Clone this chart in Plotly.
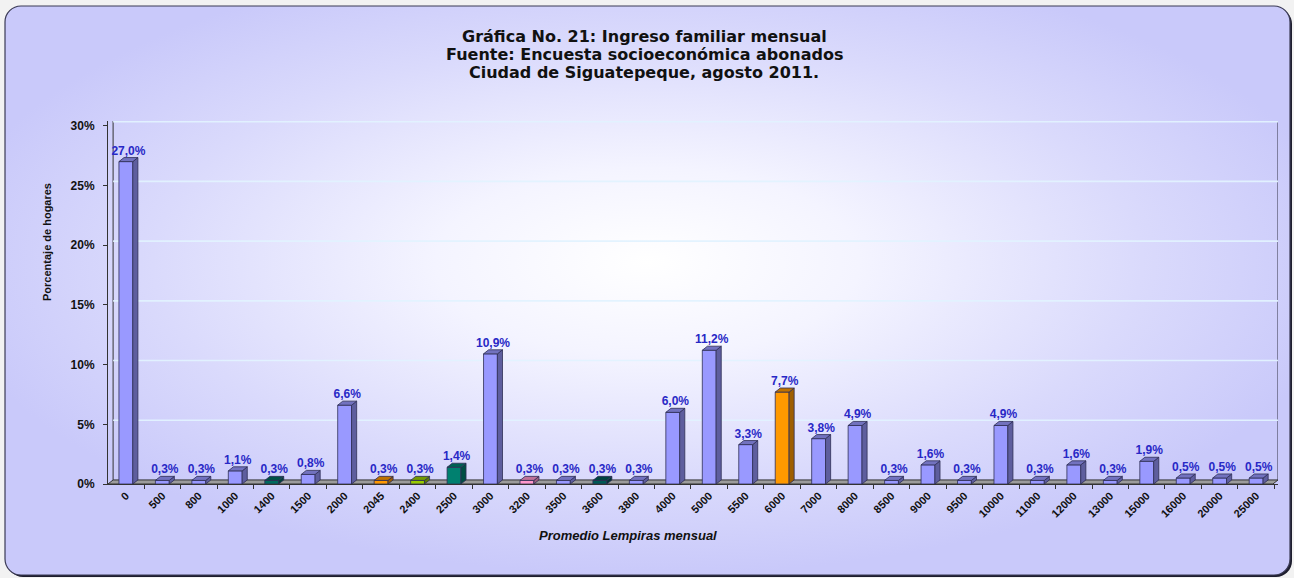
import base64
import plotly.graph_objects as go

# ---------------- data ----------------
categories = ["0", "500", "800", "1000", "1400", "1500", "2000", "2045", "2400", "2500",
              "3000", "3200", "3500", "3600", "3800", "4000", "5000", "5500", "6000", "7000",
              "8000", "8500", "9000", "9500", "10000", "11000", "12000", "13000", "15000",
              "16000", "20000", "25000"]
values = [27.0, 0.3, 0.3, 1.1, 0.3, 0.8, 6.6, 0.3, 0.3, 1.4,
          10.9, 0.3, 0.3, 0.3, 0.3, 6.0, 11.2, 3.3, 7.7, 3.8,
          4.9, 0.3, 1.6, 0.3, 4.9, 0.3, 1.6, 0.3, 1.9,
          0.5, 0.5, 0.5]
bar_colors = ["#9999FF", "#9999FF", "#9999FF", "#9999FF", "#006B5E", "#9999FF", "#9999FF", "#FF9900", "#99CC00", "#00806F",
              "#9999FF", "#FF99CC", "#9999FF", "#005A55", "#9999FF", "#9999FF", "#9999FF", "#9999FF", "#FF9900", "#9999FF",
              "#9999FF", "#9999FF", "#9999FF", "#9999FF", "#9999FF", "#9999FF", "#9999FF", "#9999FF", "#9999FF",
              "#9999FF", "#9999FF", "#9999FF"]
y_ticks = [0, 5, 10, 15, 20, 25, 30]
y_ticktext = ["0%", "5%", "10%", "15%", "20%", "25%", "30%"]
title_lines = ["Gráfica No. 21: Ingreso familiar mensual",
               "Fuente: Encuesta socioeconómica abonados",
               "Ciudad de Siguatepeque, agosto 2011."]
y_title = "Porcentaje de hogares"
x_title = "Promedio Lempiras mensual"

# ---------------- style ----------------
W, H = 1294, 578
ML, MR, MT, MB = 108, 16, 121, 94
n = len(categories)
XR = [-0.49, n - 1 + 0.60]
YR = [0, 30.4]
HW = 0.19      # half width of bar front
DX = 0.14      # depth x (data units)
DY = 0.34      # depth y (data units)
EDGE = "#2E2E55"
FONT = "Arial, Liberation Sans, sans-serif"
TFONT = "DejaVu Sans, Verdana, sans-serif"


def shade(hex_color, f):
    h = hex_color.lstrip("#")
    r, g, b = (int(h[i:i + 2], 16) for i in (0, 2, 4))
    return "#%02X%02X%02X" % (int(r * f), int(g * f), int(b * f))


fig = go.Figure()


def poly(xs, ys, fill, line_color=EDGE, width=0.8):
    fig.add_trace(go.Scatter(x=xs + [xs[0]], y=ys + [ys[0]], mode="lines", fill="toself",
                             fillcolor=fill, line=dict(color=line_color, width=width),
                             hoverinfo="skip", showlegend=False))


x0, x1 = XR
# floor
poly([x0, x1 - DX, x1, x0 + DX], [0, 0, DY, DY], "#9C9C9C", "#333333", 1)
# walls
fig.add_trace(go.Scatter(x=[x0 + DX, x0 + DX], y=[DY, YR[1]], mode="lines",
                         line=dict(color="#333333", width=1), hoverinfo="skip", showlegend=False))
fig.add_trace(go.Scatter(x=[x1, x1], y=[DY, 30 + DY], mode="lines",
                         line=dict(color="#333344", width=1), hoverinfo="skip", showlegend=False))
# gridlines on back wall
for t in y_ticks[1:]:
    fig.add_trace(go.Scatter(x=[x0 + DX, x1], y=[t + DY, t + DY], mode="lines",
                             line=dict(color="rgba(225,242,255,0.95)", width=1.6),
                             hoverinfo="skip", showlegend=False))

# bars (front, side, top)
for i, (v, c) in enumerate(zip(values, bar_colors)):
    poly([i - HW, i + HW, i + HW, i - HW], [0, 0, v, v], c)
    poly([i + HW, i + HW + DX, i + HW + DX, i + HW], [0, DY, v + DY, v], shade(c, 0.62))
    poly([i - HW, i + HW, i + HW + DX, i - HW + DX], [v, v, v + DY, v + DY], shade(c, 0.75))

# value labels
labels = [("%.1f%%" % v).replace(".", ",") for v in values]
fig.add_trace(go.Scatter(x=[i + DX / 2 for i in range(n)], y=[v + DY for v in values],
                         mode="text", text=labels, textposition="top center",
                         textfont=dict(family=FONT, size=12, color="#2828C6", weight="bold"),
                         hoverinfo="skip", showlegend=False))

# background (rounded panel with radial gradient)
svg = f'''<svg xmlns="http://www.w3.org/2000/svg" width="{W}" height="{H}" viewBox="0 0 {W} {H}">
<defs><radialGradient id="g" cx="0.5" cy="0.45" r="0.55">
<stop offset="0" stop-color="#FFFFFF"/><stop offset="0.3" stop-color="#F4F4FF"/>
<stop offset="0.7" stop-color="#DADAFC"/><stop offset="1" stop-color="#C9C9FA"/></radialGradient></defs>
<rect x="0" y="0" width="{W}" height="{H}" fill="#F2F2F2"/>
<rect x="7" y="8" width="1285" height="569" rx="16" ry="16" fill="#1E1E2E"/>
<rect x="5" y="6" width="1285" height="569" rx="16" ry="16" fill="url(#g)" stroke="#3A3A55" stroke-width="1.2"/>
</svg>'''
src = "data:image/svg+xml;base64," + base64.b64encode(svg.encode("utf-8")).decode("ascii")

pw = W - ML - MR
ph = H - MT - MB

fig.add_layout_image(dict(source=src, xref="paper", yref="paper",
                          x=-ML / pw, y=1 + MT / ph, sizex=W / pw, sizey=H / ph,
                          xanchor="left", yanchor="top", sizing="stretch", layer="below"))

# titles
for k, line in enumerate(title_lines):
    fig.add_annotation(text=line, xref="paper", yref="paper",
                       x=(644 - ML) / pw, y=1 + (MT - (37 + 17.5 * k)) / ph,
                       showarrow=False, xanchor="center", yanchor="middle",
                       font=dict(family=TFONT, size=16, color="#111111", weight="bold"))
fig.add_annotation(text=y_title, xref="paper", yref="paper",
                   x=(47 - ML) / pw, y=(H - MB - 242) / ph, textangle=-90,
                   showarrow=False, xanchor="center", yanchor="middle",
                   font=dict(family=FONT, size=11, color="#111111", weight="bold"))
fig.add_annotation(text="<i>" + x_title + "</i>", xref="paper", yref="paper",
                   x=(628 - ML) / pw, y=-(535 - (H - MB)) / ph,
                   showarrow=False, xanchor="center", yanchor="middle",
                   font=dict(family=FONT, size=13, color="#111111", weight="bold"))

fig.update_layout(
    width=W, height=H,
    margin=dict(l=ML, r=MR, t=MT, b=MB),
    paper_bgcolor="#F2F2F2", plot_bgcolor="rgba(0,0,0,0)",
    showlegend=False,
    xaxis=dict(range=XR, tickmode="array", tickvals=list(range(n)), ticktext=categories,
               tickangle=-45, showgrid=False, zeroline=False, showline=True,
               linecolor="#333333", linewidth=1, ticks="",
               minor=dict(tickvals=[i + 0.5 for i in range(-1, n)], ticks="outside",
                          ticklen=4, tickcolor="#333333"),
               tickfont=dict(family=FONT, size=11, color="#111111", weight="bold"),
               fixedrange=True),
    yaxis=dict(range=YR, tickmode="array", tickvals=y_ticks, ticktext=y_ticktext,
               showgrid=False, zeroline=False, showline=True, linecolor="#333333",
               linewidth=1, ticks="outside", ticklen=4, tickcolor="#333333",
               ticklabelstandoff=6,
               tickfont=dict(family=FONT, size=12, color="#111111", weight="bold"),
               fixedrange=True),
)

fig.write_html("out.html", config={"displayModeBar": False},
               post_script="document.body.style.margin='0';document.body.style.padding='0';document.body.style.overflow='hidden';")
